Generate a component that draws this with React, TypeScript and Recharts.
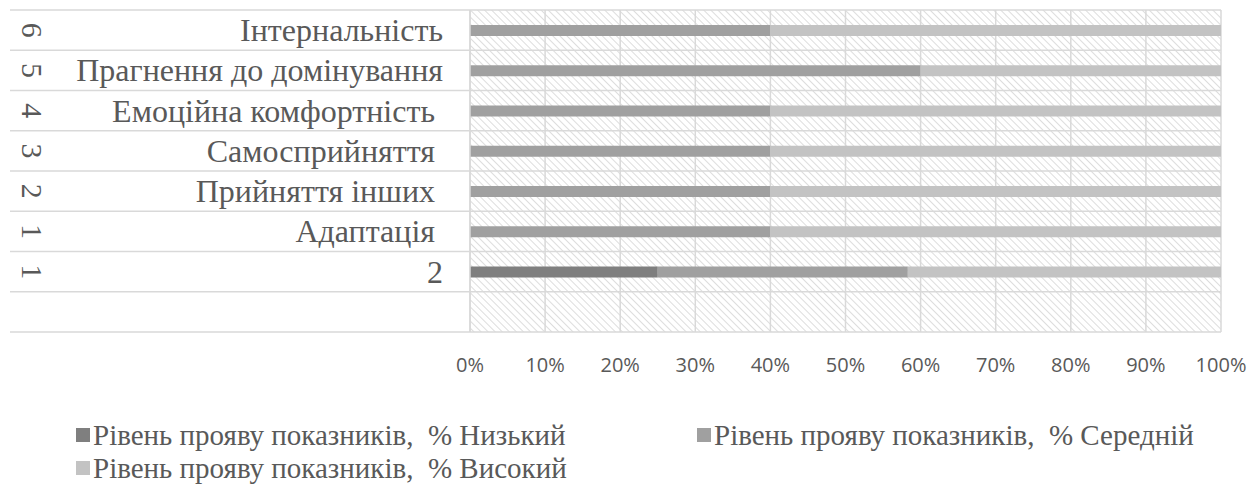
import React from "react";
import { BarChart, Bar, XAxis, YAxis, CartesianGrid } from "recharts";

const categories = [
  "Інтернальність",
  "Прагнення до домінування",
  "Емоційна комфортність\u00A0",
  "Самосприйняття\u00A0",
  "Прийняття інших\u00A0",
  "Адаптація\u00A0",
  "2",
  "",
];
const groups = ["6", "5", "4", "3", "2", "1", "1", ""];
const lowValues = [0, 0, 0, 0, 0, 0, 25, null];
const mediumValues = [40, 60, 40, 40, 40, 40, 33.3, null];
const highValues = [60, 40, 60, 60, 60, 60, 41.7, null];
const seriesNames = [
  "Рівень прояву показників,  % Низький",
  "Рівень прояву показників,  % Середній",
  "Рівень прояву показників,  % Високий",
];
const seriesColors = ["#7f7f7f", "#a0a0a0", "#c3c3c3"];
const xTicks = [0, 10, 20, 30, 40, 50, 60, 70, 80, 90, 100];

const data = categories.map((name, i) => ({
  name,
  low: lowValues[i],
  medium: mediumValues[i],
  high: highValues[i],
}));

const W = 1249;
const H = 486;
const MARGIN = { top: 10, right: 28, bottom: 124, left: 0 };
const XAXIS_H = 30;
const YAXIS_W = 470;
const PLOT_H = H - MARGIN.top - MARGIN.bottom - XAXIS_H;
const BAND = PLOT_H / categories.length;
const SERIF = "'Liberation Serif', 'Times New Roman', serif";
const TEXT = "#595959";
const GRID = "#d9d9d9";

const YTick = (props: any) => {
  const { y, index, payload } = props;
  const top = y - BAND / 2;
  return (
    <g>
      <line x1={10} x2={YAXIS_W} y1={top} y2={top} stroke={GRID} strokeWidth={1.5} />
      {index === categories.length - 1 && (
        <line x1={10} x2={YAXIS_W} y1={top + BAND} y2={top + BAND} stroke={GRID} strokeWidth={1.5} />
      )}
      <text
        x={443}
        y={y + 11}
        textAnchor="end"
        fontFamily={SERIF}
        fontSize={32}
        fill={TEXT}
        style={{ whiteSpace: "pre" }}
      >
        {payload.value}
      </text>
      <text
        transform={`translate(32 ${y}) rotate(90)`}
        textAnchor="middle"
        dy={10}
        fontFamily={SERIF}
        fontSize={30}
        fill={TEXT}
      >
        {groups[index]}
      </text>
    </g>
  );
};

const legendPos = [
  { x: 76, y: 445 },
  { x: 697, y: 445 },
  { x: 76, y: 478 },
];

export default function App() {
  return (
    <div style={{ position: "absolute", left: 0, top: 0, width: W, height: H, background: "#fff" }}>
      <BarChart
        width={W}
        height={H}
        data={data}
        layout="vertical"
        margin={MARGIN}
        barSize={11}
      >
        <defs>
          <pattern id="hatch" width="5" height="5" patternUnits="userSpaceOnUse" patternTransform="rotate(-45)">
            <rect width="5" height="5" fill="#ffffff" />
            <line x1="0" y1="0" x2="0" y2="5" stroke="#d2d2d2" strokeWidth="1.5" />
          </pattern>
        </defs>
        <CartesianGrid
          fill="url(#hatch)"
          fillOpacity={1}
          stroke={GRID}
          strokeWidth={1.5}
          horizontalCoordinatesGenerator={({ offset }: any) =>
            categories.map((_, i) => offset.top + i * (offset.height / categories.length)).concat([offset.top + offset.height])
          }
        />
        <XAxis
          type="number"
          domain={[0, 100]}
          ticks={xTicks}
          tickFormatter={(v: number) => `${v}%`}
          axisLine={false}
          tickLine={false}
          height={XAXIS_H}
          tickMargin={20}
          interval={0}
          tick={{ fill: TEXT, fontSize: 20, fontFamily: "'Open Sans', sans-serif" }}
        />
        <YAxis
          type="category"
          dataKey="name"
          width={YAXIS_W}
          axisLine={{ stroke: GRID, strokeWidth: 1.5 }}
          tickLine={false}
          tick={<YTick />}
          interval={0}
        />
        <Bar dataKey="low" stackId="a" fill={seriesColors[0]} name={seriesNames[0]} isAnimationActive={false} />
        <Bar dataKey="medium" stackId="a" fill={seriesColors[1]} name={seriesNames[1]} isAnimationActive={false} />
        <Bar dataKey="high" stackId="a" fill={seriesColors[2]} name={seriesNames[2]} isAnimationActive={false} />
      </BarChart>
      <svg width={W} height={H} style={{ position: "absolute", left: 0, top: 0, pointerEvents: "none" }}>
        {seriesNames.map((n, i) => (
          <g key={n}>
            <rect x={legendPos[i].x} y={legendPos[i].y - 17} width={14} height={14} fill={seriesColors[i]} />
            <text
              x={legendPos[i].x + 17}
              y={legendPos[i].y}
              fontFamily={SERIF}
              fontSize={29}
              fill={TEXT}
              style={{ whiteSpace: "pre" }}
            >
              {n}
            </text>
          </g>
        ))}
      </svg>
    </div>
  );
}
